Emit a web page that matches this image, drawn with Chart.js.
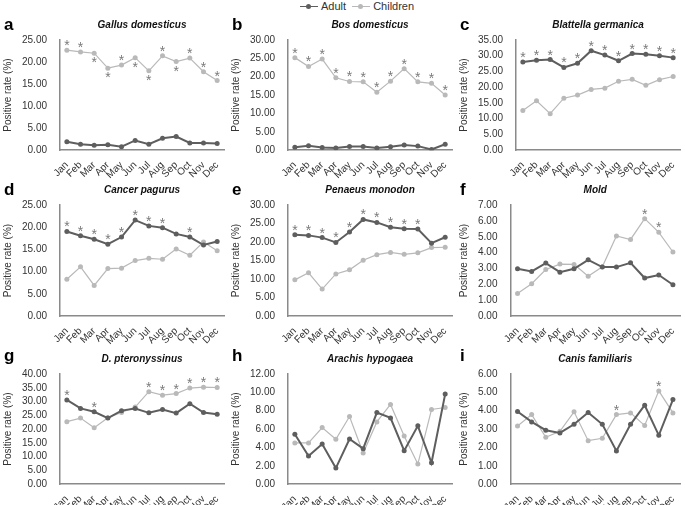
<!DOCTYPE html>
<html>
<head>
<meta charset="utf-8">
<script src="https://cdn.jsdelivr.net/npm/chart.js@4.4.1/dist/chart.umd.min.js"></script>
<style>
  body { margin: 0; background: #fff; font-family: "Liberation Sans", Arial, sans-serif; }
  #wrap { position: relative; width: 685px; height: 505px; overflow: hidden; background: #fff; }
  .panel { position: absolute; }
  .letter { position: absolute; font-weight: bold; font-size: 17px; line-height: 17px; color: #000; }
  #legend { position: absolute; top: 0; left: 300px; height: 11px; font-size: 11px; line-height: 11px; color: #333; white-space: nowrap; }
  .lg-item { display: inline-block; vertical-align: middle; margin-right: 3px; }
  .lg-line { display: inline-block; position: relative; width: 18px; height: 11px; vertical-align: middle; margin-right: 3px; }
  .lg-line i { position: absolute; left: 0; right: 0; top: 5px; height: 1.5px; }
  .lg-line b { position: absolute; left: 6px; top: 3px; width: 5px; height: 5px; border-radius: 50%; }
</style>
</head>
<body>
<div id="wrap">
  <div id="legend">
    <span class="lg-line"><i style="background:#5e5e5e"></i><b style="background:#5e5e5e"></b></span><span class="lg-item">Adult</span>
    <span class="lg-line"><i style="background:#b9b9b9"></i><b style="background:#b9b9b9"></b></span><span class="lg-item">Children</span>
  </div>
</div>
<script>
// months on every x axis
const months = ['Jan', 'Feb', 'Mar', 'Apr', 'May', 'Jun', 'Jul', 'Aug', 'Sep', 'Oct', 'Nov', 'Dec'];

const letters = ['a', 'b', 'c', 'd', 'e', 'f', 'g', 'h', 'i'];
const titles = ['Gallus domesticus', 'Bos domesticus', 'Blattella germanica', 'Cancer pagurus',
  'Penaeus monodon', 'Mold', 'D. pteronyssinus', 'Arachis hypogaea', 'Canis familiaris'];
const yMax = [25, 30, 35, 25, 30, 7, 40, 12, 6];
const yStep = [5, 5, 5, 5, 5, 1, 5, 2, 1];

// positive rates (%)
const adultA = [1.9, 1.35, 1.1, 1.2, 0.8, 2.2, 1.35, 2.7, 3.1, 1.65, 1.65, 1.5];
const childA = [22.7, 22.3, 22.0, 18.6, 19.3, 21.0, 18.0, 21.4, 20.1, 20.9, 17.8, 15.8];
const adultB = [0.8, 1.2, 0.7, 0.6, 1.0, 1.0, 0.6, 0.9, 1.4, 1.1, 0.2, 1.6];
const childB = [25.2, 22.8, 24.8, 19.7, 18.7, 18.6, 15.8, 18.8, 22.2, 18.6, 18.2, 15.0];
const adultC = [28.0, 28.6, 28.8, 26.3, 27.6, 31.6, 30.2, 28.4, 30.7, 30.5, 30.0, 29.4];
const childC = [12.6, 15.7, 11.6, 16.5, 17.5, 19.3, 19.7, 21.9, 22.5, 20.6, 22.4, 23.4];
const adultD = [19.05, 18.1, 17.3, 16.2, 17.8, 21.6, 20.3, 19.9, 18.5, 17.8, 16.0, 16.8];
const childD = [8.3, 11.1, 6.9, 10.7, 10.8, 12.5, 13.0, 12.8, 15.1, 13.7, 16.7, 14.7];
const adultE = [22.0, 21.8, 21.2, 19.9, 22.7, 26.1, 25.3, 24.0, 23.6, 23.5, 19.7, 21.3];
const childE = [9.8, 11.7, 7.3, 11.4, 12.5, 15.1, 16.6, 17.2, 16.7, 17.1, 18.5, 18.6];
const adultF = [2.98, 2.82, 3.34, 2.77, 2.98, 3.55, 3.09, 3.09, 3.36, 2.40, 2.59, 1.98];
const childF = [1.43, 2.04, 2.94, 3.28, 3.26, 2.52, 3.11, 5.05, 4.83, 6.14, 5.28, 4.04];
const adultG = [30.6, 27.5, 26.3, 24.0, 26.7, 27.5, 25.9, 27.1, 25.8, 29.2, 26.0, 25.4];
const childG = [22.7, 24.0, 20.5, 24.1, 26.0, 28.0, 33.6, 32.3, 32.9, 34.9, 35.2, 35.1];
const adultH = [5.43, 3.06, 4.38, 1.75, 4.92, 3.87, 7.80, 7.22, 3.65, 6.35, 2.33, 9.81];
const childH = [4.49, 4.49, 6.16, 4.89, 7.37, 3.39, 6.78, 8.68, 5.25, 2.19, 8.13, 8.35];
const adultI = [3.96, 3.39, 2.94, 2.79, 3.26, 3.90, 3.26, 1.81, 3.26, 4.30, 2.66, 4.61];
const childI = [3.17, 3.79, 2.55, 2.88, 3.94, 2.37, 2.50, 3.79, 3.88, 3.19, 5.08, 3.88];

// significance asterisks: 1 = above the point, -1 = below, 0 = none
const none = [0, 0, 0, 0, 0, 0, 0, 0, 0, 0, 0, 0];
const starsChildA = [1, 1, -1, -1, 1, -1, -1, 1, -1, 1, 1, 1];
const starsChildB = [1, 1, 1, 1, 1, 1, 1, 1, 1, 1, 1, 1];
const starsAdultC = [1, 1, 1, 1, 1, 1, 1, 1, 1, 1, 1, 1];
const starsAdultD = [1, 1, 1, 1, 1, 1, 1, 1, 0, 1, 0, 0];
const starsAdultE = [1, 1, 1, 1, 1, 1, 1, 1, 1, 1, 0, 0];
const starsChildF = [0, 0, 0, 0, 0, 0, 0, 0, 0, 1, 1, 0];
const starsAdultG = [1, 0, 1, 0, 0, 0, 0, 0, 0, 0, 0, 0];
const starsChildG = [0, 0, 0, 0, 0, 0, 1, 1, 1, 1, 1, 1];
const starsChildI = [0, 0, 0, 0, 0, 0, 0, 1, 0, 0, 1, 0];

const adults = [adultA, adultB, adultC, adultD, adultE, adultF, adultG, adultH, adultI];
const children = [childA, childB, childC, childD, childE, childF, childG, childH, childI];
const adultStars = [none, none, starsAdultC, starsAdultD, starsAdultE, none, starsAdultG, none, none];
const childStars = [starsChildA, starsChildB, none, none, none, starsChildF, starsChildG, none, starsChildI];

const ADULT = '#5e5e5e';
const CHILD = '#b9b9b9';
const STAR = '#7a7a7a';
const FONT = '"Liberation Sans", Arial, sans-serif';

// panel boxes: column x, row y, canvas height (canvases may overlap, they are transparent)
const colX = [0, 228, 456];
const rowY = [12, 177, 346];
const rowH = [170, 171, 170];
const letterY = [16, 181, 347];

// draws the asterisks next to the points
const starPlugin = {
  id: 'stars',
  afterDatasetsDraw(chart, args, opts) {
    const ctx = chart.ctx;
    ctx.save();
    ctx.font = '14px ' + FONT;
    ctx.fillStyle = STAR;
    ctx.textAlign = 'center';
    const m = ctx.measureText('*');
    const shift = (m.actualBoundingBoxAscent - m.actualBoundingBoxDescent) / 2;
    opts.sets.forEach((marks, ds) => {
      const pts = chart.getDatasetMeta(ds).data;
      marks.forEach((s, i) => {
        if (!s) return;
        const p = pts[i];
        const cy = p.y - s * 7;
        ctx.fillText('*', p.x, cy + shift);
      });
    });
    ctx.restore();
  }
};

function makePanel(k) {
  const col = k % 3, row = Math.floor(k / 3);
  const wrap = document.getElementById('wrap');

  const div = document.createElement('div');
  div.className = 'panel';
  div.style.left = colX[col] + 'px';
  div.style.top = rowY[row] + 'px';
  const cv = document.createElement('canvas');
  cv.width = 228;
  cv.height = rowH[row];
  div.appendChild(cv);
  wrap.appendChild(div);

  const lt = document.createElement('div');
  lt.className = 'letter';
  lt.textContent = letters[k];
  lt.style.left = (colX[col] + 4) + 'px';
  lt.style.top = letterY[row] + 'px';
  wrap.appendChild(lt);

  new Chart(cv, {
    type: 'line',
    data: {
      labels: months,
      datasets: [
        { label: 'Adult', data: adults[k], borderColor: ADULT, backgroundColor: ADULT,
          borderWidth: 2, pointRadius: 2.5, pointBorderWidth: 0, tension: 0 },
        { label: 'Children', data: children[k], borderColor: CHILD, backgroundColor: CHILD,
          borderWidth: 1.2, pointRadius: 2.5, pointBorderWidth: 0, tension: 0 }
      ]
    },
    options: {
      responsive: false,
      animation: false,
      layout: { padding: { left: 2, right: 4, top: 0, bottom: 0 } },
      plugins: {
        legend: { display: false },
        tooltip: { enabled: false },
        title: {
          display: true, text: titles[k], fullSize: false, color: '#111',
          font: { family: FONT, size: 10, weight: 'bold', style: 'italic' },
          padding: { top: 7, bottom: 9 }
        },
        stars: { sets: [adultStars[k], childStars[k]] }
      },
      scales: {
        x: {
          offset: true,
          grid: { display: false },
          border: { color: '#8a8a8a', width: 1.5 },
          ticks: { minRotation: 45, maxRotation: 45, autoSkip: false, padding: 1,
            color: '#333', font: { family: FONT, size: 10 } }
        },
        y: {
          min: 0, max: yMax[k],
          grid: { display: false },
          border: { color: '#8a8a8a', width: 1.5 },
          ticks: { stepSize: yStep[k], autoSkip: false, padding: 5, color: '#333',
            font: { family: FONT, size: 10 },
            callback: v => v.toFixed(2) },
          title: { display: true, text: 'Positive rate (%)', color: '#333', padding: { top: 0, bottom: 3 },
            font: { family: FONT, size: 10 } }
        }
      }
    },
    plugins: [starPlugin]
  });
}

for (let k = 0; k < 9; k++) makePanel(k);
</script>
</body>
</html>
